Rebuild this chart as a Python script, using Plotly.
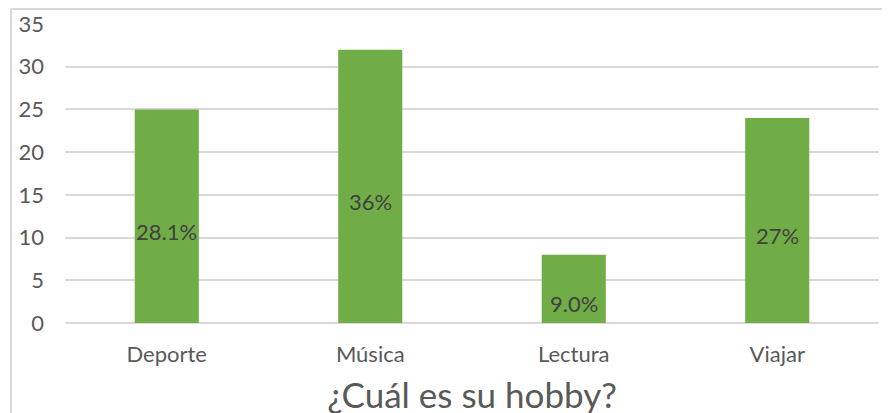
import plotly.graph_objs as go

categorias = ["Deporte", "Música", "Lectura", "Viajar"]
respuestas = [25, 32, 8, 24]
etiquetas = ["28.1%", "36%", "9.0%", "27%"]

fig = go.Figure()
fig.add_trace(go.Bar(
    x=categorias,
    y=respuestas,
    marker=dict(color="#70AD47", line=dict(width=0)),
    width=0.315,
    hoverinfo="skip",
))

# Etiquetas de datos dentro de las barras (un poco por debajo del centro, como en Excel)
for cat, val, txt in zip(categorias, respuestas, etiquetas):
    fig.add_annotation(x=cat, y=val / 2, text=txt, showarrow=False,
                       yshift=-15, font=dict(size=22, color="#404040"))

# Borde del área del gráfico (recortado a la derecha y abajo)
fig.add_shape(type="line", xref="paper", yref="paper",
              x0=-0.0663, x1=-0.0663, y0=-0.4, y1=1.05,
              line=dict(color="#d9d9d9", width=2))
fig.add_shape(type="line", xref="paper", yref="paper",
              x0=-0.0663, x1=1.05, y0=1.05, y1=1.05,
              line=dict(color="#d9d9d9", width=2))

# La página tiene 8px de margen en el body: se compensa en los márgenes
fig.update_layout(
    width=890, height=413,
    margin=dict(l=57, r=19, t=16, b=98),
    paper_bgcolor="white",
    plot_bgcolor="white",
    font=dict(family="Lato, Open Sans, sans-serif", color="#595959", size=22),
    showlegend=False,
    xaxis=dict(
        title=dict(text="¿Cuál es su hobby?", font=dict(size=35, color="#595959"), standoff=17),
        tickfont=dict(size=22, color="#595959"),
        showgrid=False, showline=False, ticks="",
        ticklabelstandoff=16,
        automargin=False,
    ),
    yaxis=dict(
        range=[0, 35], dtick=5,
        gridcolor="#d9d9d9", gridwidth=1.6,
        zeroline=True, zerolinecolor="#d9d9d9", zerolinewidth=1.6,
        tickfont=dict(size=22, color="#595959"),
        ticklabelstandoff=20,
        showline=False, ticks="",
        automargin=False,
    ),
)

fig.write_html("out.html")
